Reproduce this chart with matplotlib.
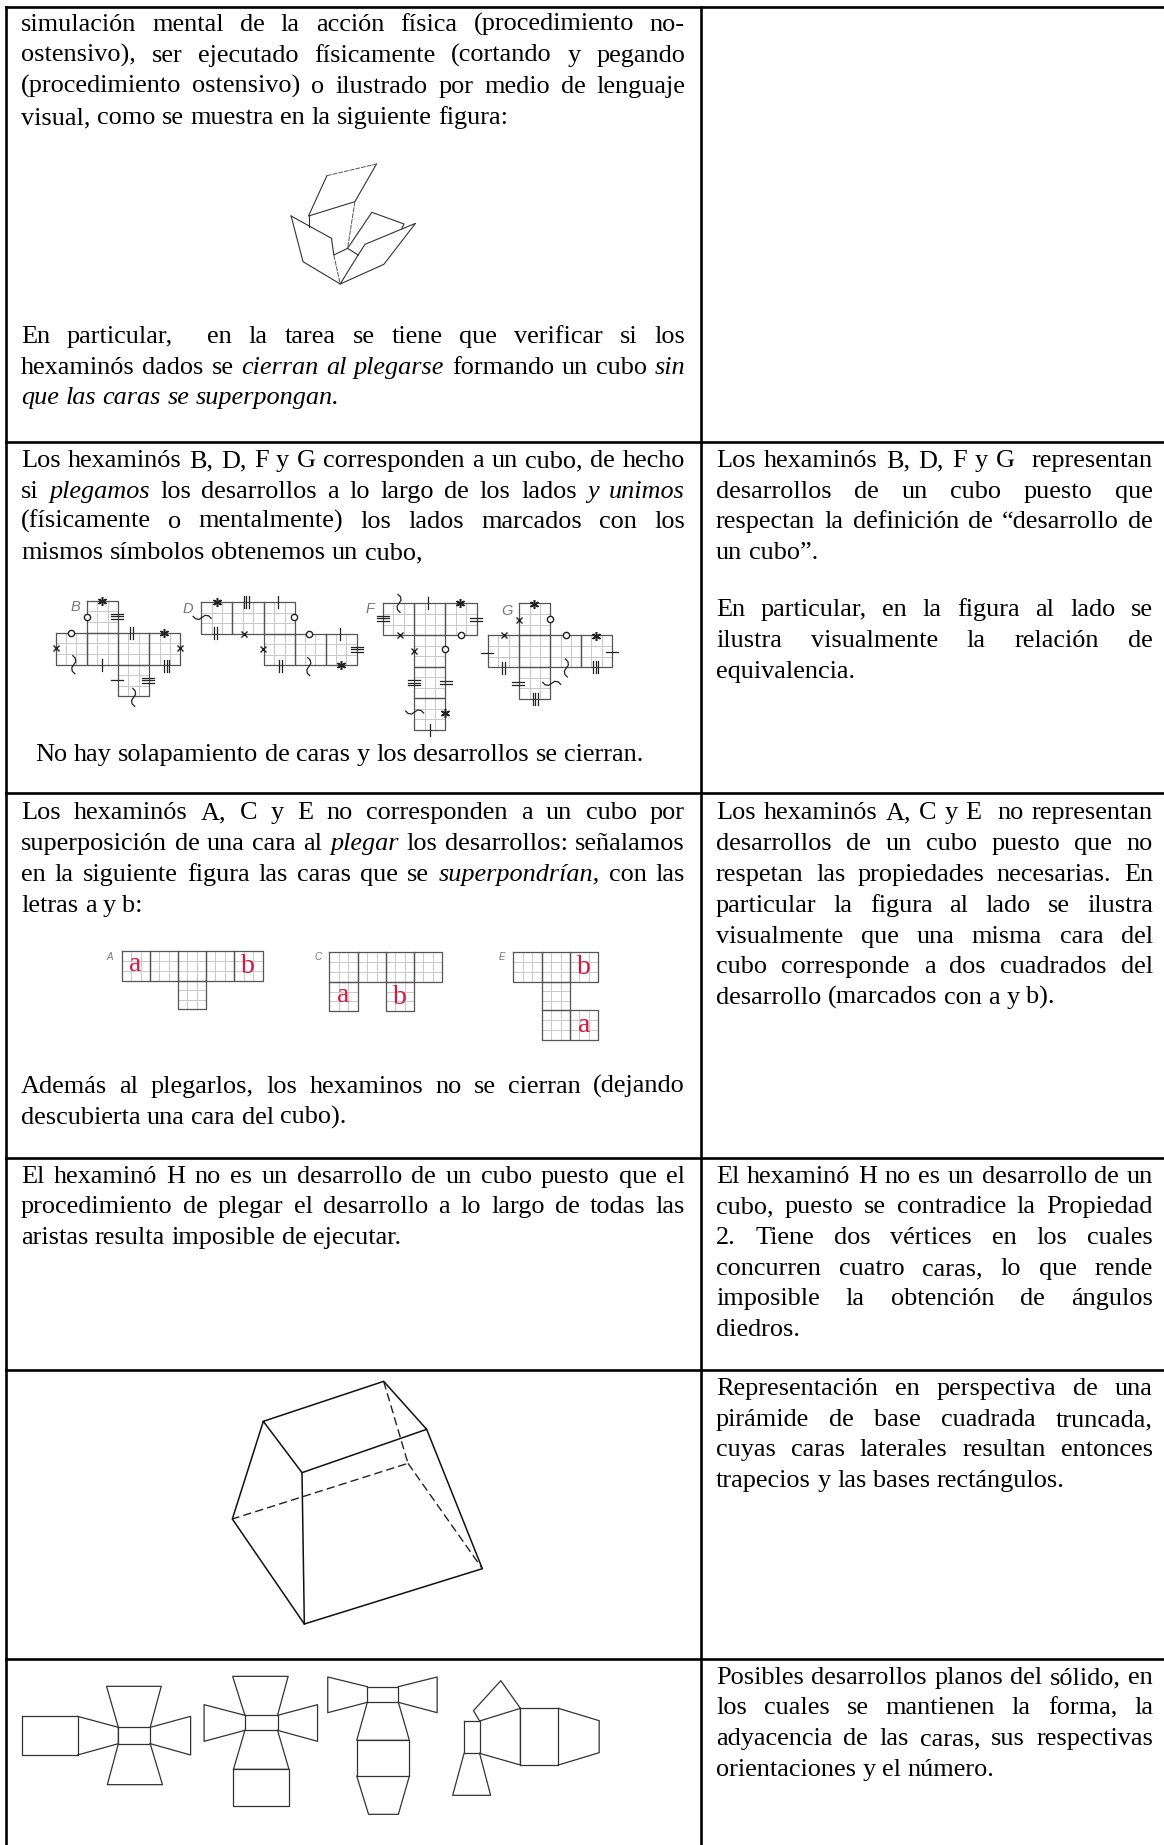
import matplotlib
matplotlib.use("Agg")
import matplotlib.pyplot as plt

plt.rcParams['font.family'] = ['Liberation Serif', 'DejaVu Serif']

# text lines: baseline y, words (*x* = italic), justified or not
left_text = [
    (31, "simulación mental de la acción física (procedimiento no-", True),
    (62, "ostensivo), ser ejecutado físicamente (cortando y pegando", True),
    (93, "(procedimiento ostensivo) o ilustrado por medio de lenguaje", True),
    (124, "visual, como se muestra en la siguiente figura:", False),
    (343, "En particular,  en la tarea se tiene que verificar si los", True),
    (374, "hexaminós dados se *cierran* *al* *plegarse* formando un cubo *sin*", True),
    (404, "*que* *las* *caras* *se* *superpongan.*", False),
    (467, "Los hexaminós B, D, F y G corresponden a un cubo, de hecho", True),
    (498, "si *plegamos* los desarrollos a lo largo de los lados *y* *unimos*", True),
    (528, "(físicamente o mentalmente) los lados marcados con los", True),
    (559, "mismos símbolos obtenemos un cubo,", False),
    (819, "Los hexaminós A, C y E no corresponden a un cubo por", True),
    (850, "superposición de una cara al *plegar* los desarrollos: señalamos", True),
    (881, "en la siguiente figura las caras que se *superpondrían*, con las", True),
    (912, "letras a y b:", False),
    (1093, "Además al plegarlos, los hexaminos no se cierran (dejando", True),
    (1124, "descubierta una cara del cubo).", False),
    (1183, "El hexaminó H no es un desarrollo de un cubo puesto que el", True),
    (1213, "procedimiento de plegar el desarrollo a lo largo de todas las", True),
    (1244, "aristas resulta imposible de ejecutar.", False),
]
no_hay = (761, "No hay solapamiento de caras y los desarrollos se cierran.", False)

right_text = [
    (467, "Los hexaminós B, D, F y G  representan", True),
    (498, "desarrollos de un cubo puesto que", True),
    (528, "respectan la definición de “desarrollo de", True),
    (559, "un cubo”.", False),
    (616, "En particular, en la figura al lado se", True),
    (647, "ilustra visualmente la relación de", True),
    (678, "equivalencia.", False),
    (819, "Los hexaminós A, C y E  no representan", True),
    (850, "desarrollos de un cubo puesto que no", True),
    (881, "respetan las propiedades necesarias. En", True),
    (912, "particular la figura al lado se ilustra", True),
    (943, "visualmente que una misma cara del", True),
    (973, "cubo corresponde a dos cuadrados del", True),
    (1004, "desarrollo (marcados con a y b).", False),
    (1183, "El hexaminó H no es un desarrollo de un", True),
    (1213, "cubo, puesto se contradice la Propiedad", True),
    (1244, "2. Tiene dos vértices en los cuales", True),
    (1275, "concurren cuatro caras, lo que rende", True),
    (1305, "imposible la obtención de ángulos", True),
    (1336, "diedros.", False),
    (1395, "Representación en perspectiva de una", True),
    (1426, "pirámide de base cuadrada truncada,", True),
    (1456, "cuyas caras laterales resultan entonces", True),
    (1487, "trapecios y las bases rectángulos.", False),
    (1684, "Posibles desarrollos planos del sólido, en", True),
    (1714, "los cuales se mantienen la forma, la", True),
    (1745, "adyacencia de las caras, sus respectivas", True),
    (1776, "orientaciones y el número.", False),
]

# table rules
row_lines = [442, 793, 1158, 1370, 1659]
top_line = 7
col_lines = [6, 701]

cube_solid = [
    [(712, 527), (672, 648), (773, 605), (820, 492)],
    [(672, 648), (672, 680)],
    [(634, 648), (722, 715), (727, 765), (757, 745), (780, 765), (741, 852), (836, 793), (905, 670), (795, 733), (780, 765)],
    [(634, 648), (660, 785), (741, 852)],
    [(757, 745), (810, 637), (880, 672), (875, 685)],
]
cube_dashed = [
    [(712, 527), (820, 492)],
    [(773, 605), (757, 745)],
    [(727, 765), (741, 852)],
]

hex_b = dict(xs=[82, 154, 226, 298, 370], ys=[182, 278, 374, 468],
             cells=[(1, 0), (0, 1), (1, 1), (2, 1), (3, 1), (2, 2)], label=("B", 128, 200),
             marks=[("*", 188, 182), ("o", 154, 232), ("H3", 224, 228), ("o", 118, 280), ("I2", 258, 278),
                    ("*", 332, 280), ("x", 82, 325), ("x", 370, 325), ("w", 124, 374), ("I1", 188, 374),
                    ("I3", 338, 378), ("H1", 224, 420), ("H3", 296, 420), ("w", 262, 472)])
hex_d = dict(xs=[418, 490, 562, 634, 705, 776], ys=[186, 282, 376],
             cells=[(0, 0), (1, 0), (2, 0), (2, 1), (3, 1), (4, 1)], label=("D", 386, 208),
             marks=[("*", 454, 186), ("I3", 522, 186), ("I1", 594, 186), ("c", 420, 232), ("o", 632, 232),
                    ("I2", 450, 280), ("x", 517, 282), ("o", 666, 282), ("I1", 738, 282), ("x", 561, 328),
                    ("H3", 776, 328), ("I2", 600, 378), ("w", 666, 380), ("*", 740, 374)])
hex_f = dict(xs=[837, 909, 981, 1053], ys=[190, 286, 380, 474, 570],
             cells=[(0, 0), (1, 0), (2, 0), (1, 1), (1, 2), (1, 3)], label=("F", 808, 206),
             marks=[("w", 874, 190), ("I1", 942, 190), ("*", 1014, 190), ("H3", 836, 234), ("H2", 1052, 238),
                    ("x", 877, 286), ("o", 1016, 286), ("x", 908, 332), ("o", 980, 328), ("H3", 908, 428),
                    ("H2", 982, 428), ("c", 910, 516), ("*", 980, 520), ("I1", 946, 570)])
hex_g = dict(xs=[1079, 1151, 1223, 1294, 1365], ys=[190, 286, 382, 476],
             cells=[(1, 0), (0, 1), (1, 1), (2, 1), (3, 1), (1, 2)], label=("G", 1122, 212),
             marks=[("*", 1186, 192), ("x", 1150, 240), ("o", 1222, 238), ("x", 1116, 286), ("o", 1258, 286),
                    ("*", 1328, 288), ("H1", 1077, 340), ("H1", 1366, 335), ("I2", 1116, 384), ("w", 1260, 384),
                    ("I3", 1328, 382), ("H2", 1148, 430), ("c", 1226, 430), ("I3", 1188, 478)])

# overlapping hexominoes, full pixels
hex_a = dict(xs=[122, 150, 178, 206, 234, 263], ys=[951, 981, 1009],
             cells=[(0, 0), (1, 0), (2, 0), (3, 0), (4, 0), (2, 1)], label=("A", 110, 957),
             letters=[("a", 135, 971), ("b", 248, 973)])
hex_c = dict(xs=[329, 358, 386, 414, 442], ys=[952, 982, 1011],
             cells=[(0, 0), (1, 0), (2, 0), (3, 0), (0, 1), (2, 1)], label=("C", 318, 957),
             letters=[("a", 343, 1002), ("b", 400, 1004)])
hex_e = dict(xs=[513, 542, 570, 598], ys=[952, 982, 1010, 1040],
             cells=[(0, 0), (1, 0), (2, 0), (1, 1), (1, 2), (2, 2)], label=("E", 502, 957),
             letters=[("b", 584, 974), ("a", 584, 1032)])

pyr_solid = [
    [(250, 244), (611, 124), (740, 268), (366, 398), (250, 244), (157, 537), (373, 852), (907, 686), (740, 268)],
    [(366, 398), (373, 852)],
]
pyr_dashed = [
    [(611, 124), (684, 370), (157, 537)],
    [(684, 370), (907, 686)],
]

nets = [
    [(55, 229), (190, 229), (190, 345), (55, 345), (55, 229)],
    [(190, 229), (290, 262), (290, 311), (190, 345)],
    [(290, 262), (368, 262), (368, 311), (290, 311), (290, 262)],
    [(290, 262), (261, 139), (395, 139), (368, 262)],
    [(290, 311), (263, 434), (398, 434), (368, 311)],
    [(368, 262), (467, 229), (467, 345), (368, 311)],
    [(600, 226), (680, 226), (680, 271), (600, 271), (600, 226)],
    [(600, 226), (570, 109), (706, 109), (680, 226)],
    [(600, 226), (500, 194), (500, 304), (600, 271)],
    [(680, 226), (778, 194), (778, 304), (680, 271)],
    [(600, 271), (572, 388), (708, 388), (680, 271)],
    [(572, 388), (708, 388), (708, 499), (572, 499), (572, 388)],
    [(900, 140), (976, 140), (976, 187), (900, 187), (900, 140)],
    [(900, 140), (803, 111), (803, 218), (900, 187)],
    [(976, 140), (1071, 111), (1071, 218), (976, 187)],
    [(900, 187), (874, 301), (1003, 301), (976, 187)],
    [(874, 301), (1003, 301), (1003, 408), (874, 408), (874, 301)],
    [(874, 408), (903, 523), (976, 523), (1003, 408)],
    [(1137, 243), (1175, 243), (1175, 340), (1137, 340), (1137, 243)],
    [(1137, 340), (1109, 466), (1202, 466), (1175, 340)],
    [(1175, 243), (1160, 212), (1227, 122), (1275, 205)],
    [(1175, 243), (1275, 205), (1275, 375), (1175, 340)],
    [(1275, 205), (1368, 205), (1368, 375), (1275, 375), (1275, 205)],
    [(1368, 205), (1468, 242), (1468, 338), (1368, 375)],
]

fig = plt.figure(figsize=(11.64, 18.45), dpi=100)
ax = fig.add_axes([0, 0, 1, 1])
ax.set_xlim(0, 1164)
ax.set_ylim(1845, 0)
ax.axis('off')
renderer = fig.canvas.get_renderer()
FS = 18.9


def put_line(line, x0, x1):
    y, s, just = line
    artists = []
    total = 0
    tokens = s.split(' ')
    for tok in tokens:
        if tok == '':
            artists.append((None, 0))
            continue
        ital = tok.startswith('*')
        t = ax.text(x0, y, tok.replace('*', ''), fontsize=FS, color='black', va='baseline', ha='left',
                    style='italic' if ital else 'normal')
        w = t.get_window_extent(renderer).width
        artists.append((t, w))
        total += w
    gap = (x1 - x0 - total) / (len(tokens) - 1) if just else 6.5
    x = x0
    for t, w in artists:
        if t is not None:
            t.set_x(x)
            x += w + gap
        else:
            x += gap


for line in left_text:
    put_line(line, 21, 685)
put_line(no_hay, 35, 685)
for line in right_text:
    put_line(line, 716, 1153)

# table
ax.plot([col_lines[0], 1164], [top_line, top_line], color='black', lw=1.9)
for y in row_lines:
    ax.plot([col_lines[0], 1164], [y, y], color='black', lw=1.9)
for x in col_lines:
    ax.plot([x, x], [top_line, 1845], color='black', lw=1.9)


def crop(pts, ox, oy, sx, sy):
    return [ox + p[0] / sx for p in pts], [oy + p[1] / sy for p in pts]


for seg in cube_solid:
    xs, ys = crop(seg, 0, 0, 2.178, 3)
    ax.plot(xs, ys, color='#333333', lw=0.8)
for seg in cube_dashed:
    xs, ys = crop(seg, 0, 0, 2.178, 3)
    ax.plot(xs, ys, color='#555555', lw=0.7, dashes=(5, 1))


def draw_cells(h, fx, fy):
    xs, ys = h['xs'], h['ys']
    for c, r in h['cells']:
        x0, x1, y0, y1 = fx(xs[c]), fx(xs[c + 1]), fy(ys[r]), fy(ys[r + 1])
        for k in (1, 2):
            xk = x0 + (x1 - x0) * k / 3
            yk = y0 + (y1 - y0) * k / 3
            ax.plot([xk, xk], [y0, y1], color='#c8c8c8', lw=0.7, zorder=1)
            ax.plot([x0, x1], [yk, yk], color='#c8c8c8', lw=0.7, zorder=1)
    for c, r in h['cells']:
        x0, x1, y0, y1 = fx(xs[c]), fx(xs[c + 1]), fy(ys[r]), fy(ys[r + 1])
        ax.plot([x0, x1, x1, x0, x0], [y0, y0, y1, y1, y0], color='#555555', lw=0.9, zorder=2)


wave_v = [(-1, -9), (1.5, -6.5), (2, -3), (0, 0), (-2, 3), (-1.5, 6.5), (1, 9)]
bar_off = {'1': [0], '2': [-1.5, 1.5], '3': [-2.5, 0, 2.5]}


def draw_mark(kind, x, y):
    c = '#222222'
    if kind == 'x':
        ax.plot([x], [y], marker='x', ms=4.5, mew=1.0, color=c, zorder=3)
    elif kind == 'o':
        ax.plot([x], [y], marker='o', ms=4.5, mew=1.0, mfc='white', mec=c, zorder=3)
    elif kind == '*':
        ax.plot([x], [y], marker=(6, 2, 0), ms=6.5, mew=1.1, color=c, zorder=3)
    elif kind == 'w':
        ax.plot([x + p[0] for p in wave_v], [y + p[1] for p in wave_v], color=c, lw=0.9, zorder=3)
    elif kind == 'c':
        ax.plot([x + p[1] for p in wave_v], [y + p[0] for p in wave_v], color=c, lw=0.9, zorder=3)
    elif kind[0] == 'I':
        for d in bar_off[kind[1]]:
            ax.plot([x + d, x + d], [y - 6, y + 6], color=c, lw=0.9, zorder=3)
    elif kind[0] == 'H':
        for d in bar_off[kind[1]]:
            ax.plot([x - 6, x + 6], [y + d, y + d], color=c, lw=0.9, zorder=3)


for h in [hex_b, hex_d, hex_f, hex_g]:
    fx = lambda v: 20 + v / 2.306
    fy = lambda v: 540 + v / 3
    draw_cells(h, fx, fy)
    for kind, mx, my in h['marks']:
        draw_mark(kind, fx(mx), fy(my))
    lab, lx, ly = h['label']
    ax.text(fx(lx), fy(ly), lab, family='Liberation Sans', style='italic', fontsize=10.5, color='#777777',
            ha='center', va='center')

for h in [hex_a, hex_c, hex_e]:
    draw_cells(h, lambda v: v, lambda v: v)
    lab, lx, ly = h['label']
    ax.text(lx, ly, lab, family='Liberation Sans', style='italic', fontsize=7, color='#777777',
            ha='center', va='center')
    for ch, lx, ly in h['letters']:
        ax.text(lx, ly, ch, fontsize=20, color='#d9163f', ha='center', va='baseline', zorder=4)

for seg in pyr_solid:
    xs, ys = crop(seg, 180, 1340, 3, 3)
    ax.plot(xs, ys, color='#111111', lw=1.1, solid_joinstyle='miter')
for seg in pyr_dashed:
    xs, ys = crop(seg, 180, 1340, 3, 3)
    ax.plot(xs, ys, color='#222222', lw=1.0, dashes=(6, 3))

for seg in nets:
    xs, ys = crop(seg, 0, 1640, 2.45, 3)
    ax.plot(xs, ys, color='#333333', lw=0.9)

fig.savefig('out.png', dpi=100)
